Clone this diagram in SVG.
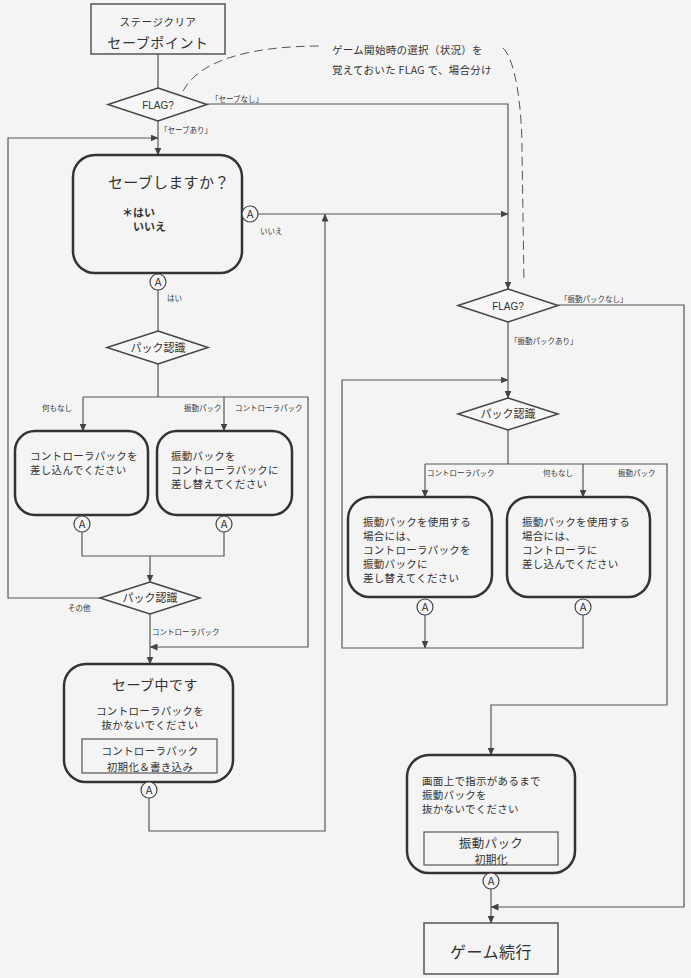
<svg xmlns="http://www.w3.org/2000/svg" width="691" height="978" viewBox="0 0 691 978">
<defs>
<marker id="arr" markerWidth="8" markerHeight="7" refX="7.5" refY="3.5" orient="auto" markerUnits="userSpaceOnUse"><path d="M0,0 L8,3.5 L0,7 z" fill="#444"/></marker>
<style>
text{font-family:"Noto Sans CJK JP","Liberation Sans",sans-serif;fill:#333}
.c{text-anchor:middle}
.t10{font-size:10.5px;letter-spacing:0.3px}
.t8{font-size:7.5px}
.box{fill:none;stroke:#333;stroke-width:2.5}
.rbox{fill:none;stroke:#555;stroke-width:1.5}
.dia{fill:#f6f6f6;stroke:#444;stroke-width:1.5}
.ln{fill:none;stroke:#555;stroke-width:1.2}
.arr{marker-end:url(#arr)}
.dash{fill:none;stroke:#555;stroke-width:1;stroke-dasharray:9,5}
.ac{fill:#f6f6f6;stroke:#444;stroke-width:1.2}
.fl{font-family:"Liberation Sans",sans-serif;font-size:10px}
</style>
</defs>
<rect width="691" height="978" fill="#f4f4f4"/>

<g id="connectors">
<path class="ln" d="M158,54 V88"/>
<path class="ln arr" d="M207,104 H508 V289"/>
<path class="ln arr" d="M158,121 V155"/>
<path class="ln arr" d="M100,598 H8 V138 H158"/>
<path class="ln arr" d="M258,214 H508"/>
<path class="ln" d="M158,290 V331"/>
<path class="ln" d="M158,364 V397"/>
<path class="ln arr" d="M83,397 V431"/>
<path class="ln arr" d="M224,397 V431"/>
<path class="ln arr" d="M83,397 H308 V647 H150"/>
<path class="ln" d="M82,532 V556 H224 V532"/>
<path class="ln arr" d="M150,556 V582"/>
<path class="ln arr" d="M150,614 V664"/>
<path class="ln arr" d="M149,798 V831 H325 V214"/>
<path class="ln arr" d="M558,305 H684 V907 H491"/>
<path class="ln arr" d="M508,322 V398"/>
<path class="ln arr" d="M583,615 V648 H342 V380 H508"/>
<path class="ln arr" d="M425,615 V648"/>
<path class="ln" d="M508,430 V464"/>
<path class="ln arr" d="M425,464 V497"/>
<path class="ln arr" d="M583,464 V497"/>
<path class="ln arr" d="M583,464 H667 V705 H491 V755"/>
<path class="ln" d="M425,464 H583"/>
<path class="ln arr" d="M491,889 V923"/>
<path class="dash" d="M183,91 C200,60 250,46 322,46"/>
<path class="dash" d="M503,48 C516,60 522,110 522,150 L524,282"/>
<text class="t8" x="211" y="102">「セーブなし」</text>
<text class="t8" x="160" y="133">「セーブあり」</text>
<text class="t8" x="260" y="234">いいえ</text>
<text class="t8" x="167" y="301">はい</text>
<text class="t8" x="42" y="411">何もなし</text>
<text class="t8" x="184" y="411">振動パック</text>
<text class="t8" x="235" y="411">コントローラパック</text>
<text class="t8" x="68" y="611">その他</text>
<text class="t8" x="152" y="635">コントローラパック</text>
<text class="t8" x="560" y="302">「振動パックなし」</text>
<text class="t8" x="510" y="344">「振動パックあり」</text>
<text class="t8" x="427" y="476">コントローラパック</text>
<text class="t8" x="543" y="476">何もなし</text>
<text class="t8" x="618" y="476">振動パック</text>
</g>

<g id="note">
<text class="t10" x="332" y="54">ゲーム開始時の選択（状況）を</text>
<text class="t10" x="332" y="74">覚えておいた FLAG で、場合分け</text>
</g>

<g id="start">
<rect class="rbox" x="91" y="4" width="134" height="50"/>
<text class="c" x="158" y="26" style="font-size:10.5px;letter-spacing:0.5px">ステージクリア</text>
<text class="c" x="158" y="48" style="font-size:14px;letter-spacing:0.6px">セーブポイント</text>
</g>

<g id="flag1">
<polygon class="dia" points="158,88 207,104.5 158,121 108,104.5"/>
<text class="c fl" x="158" y="108.5">FLAG?</text>
</g>

<g id="ask">
<rect class="box" x="73" y="155" width="169" height="118" rx="22"/>
<text x="108" y="188" style="font-size:15px;letter-spacing:0.3px">セーブしますか？</text>
<text x="122" y="217" style="font-size:11px;font-weight:bold">＊はい</text>
<text x="133" y="231" style="font-size:11px;font-weight:bold">いいえ</text>
<circle class="ac" cx="250" cy="214" r="8"/><text class="c" x="250" y="218" style="font-size:11px">A</text>
<circle class="ac" cx="158" cy="282" r="8"/><text class="c" x="158" y="286" style="font-size:11px">A</text>
</g>

<g id="pack1">
<polygon class="dia" points="158,331 208,347.5 158,364 107,347.5"/>
<text class="c" x="158" y="352" style="font-size:11px">パック認識</text>
</g>

<g id="insert">
<rect class="box" x="15" y="431" width="133" height="84" rx="20"/>
<text class="t10" x="30" y="460">コントローラパックを</text>
<text class="t10" x="30" y="474">差し込んでください</text>
<circle class="ac" cx="82" cy="524" r="8"/><text class="c" x="82" y="528" style="font-size:11px">A</text>
</g>

<g id="swap">
<rect class="box" x="157" y="431" width="135" height="84" rx="20"/>
<text class="t10" x="171" y="460">振動パックを</text>
<text class="t10" x="171" y="474">コントローラパックに</text>
<text class="t10" x="171" y="488">差し替えてください</text>
<circle class="ac" cx="224" cy="524" r="8"/><text class="c" x="224" y="528" style="font-size:11px">A</text>
</g>

<g id="pack2">
<polygon class="dia" points="150,582 200,598 150,614 100,598"/>
<text class="c" x="150" y="602" style="font-size:11px">パック認識</text>
</g>

<g id="saving">
<rect class="box" x="64" y="664" width="169" height="118" rx="22"/>
<text class="c" x="155" y="690" style="font-size:14px;letter-spacing:0.5px">セーブ中です</text>
<text class="c t10" x="150" y="715">コントローラパックを</text>
<text class="c t10" x="150" y="729">抜かないでください</text>
<rect class="rbox" x="82" y="739" width="135" height="34" style="stroke-width:1.2"/>
<text class="c t10" x="150" y="755">コントローラパック</text>
<text class="c t10" x="150" y="771">初期化＆書き込み</text>
<circle class="ac" cx="149" cy="790" r="8"/><text class="c" x="149" y="794" style="font-size:11px">A</text>
</g>

<g id="flag2">
<polygon class="dia" points="508,289 558,305.5 508,322 458,305.5"/>
<text class="c fl" x="508" y="309.5">FLAG?</text>
</g>

<g id="pack3">
<polygon class="dia" points="508,398 558,414 508,430 458,414"/>
<text class="c" x="508" y="418" style="font-size:11px">パック認識</text>
</g>

<g id="useRumble1">
<rect class="box" x="348" y="497" width="144" height="100" rx="22"/>
<text class="t10" x="363" y="526">振動パックを使用する</text>
<text class="t10" x="363" y="540">場合には、</text>
<text class="t10" x="363" y="554">コントローラパックを</text>
<text class="t10" x="363" y="568">振動パックに</text>
<text class="t10" x="363" y="582">差し替えてください</text>
<circle class="ac" cx="425" cy="607" r="8"/><text class="c" x="425" y="611" style="font-size:11px">A</text>
</g>

<g id="useRumble2">
<rect class="box" x="507" y="497" width="143" height="100" rx="22"/>
<text class="t10" x="522" y="526">振動パックを使用する</text>
<text class="t10" x="522" y="540">場合には、</text>
<text class="t10" x="522" y="554">コントローラに</text>
<text class="t10" x="522" y="568">差し込んでください</text>
<circle class="ac" cx="583" cy="607" r="8"/><text class="c" x="583" y="611" style="font-size:11px">A</text>
</g>

<g id="keepRumble">
<rect class="box" x="407" y="755" width="168" height="118" rx="22"/>
<text class="t10" x="422" y="785">画面上で指示があるまで</text>
<text class="t10" x="422" y="799">振動パックを</text>
<text class="t10" x="422" y="813">抜かないでください</text>
<rect class="rbox" x="424" y="832" width="134" height="33" style="stroke-width:1.2"/>
<text class="c" x="491" y="848" style="font-size:12.5px;letter-spacing:0.3px">振動パック</text>
<text class="c" x="491" y="864" style="font-size:11px">初期化</text>
<circle class="ac" cx="491" cy="881" r="8"/><text class="c" x="491" y="885" style="font-size:11px">A</text>
</g>

<g id="continue">
<rect class="rbox" x="424" y="923" width="134" height="51"/>
<text class="c" x="491" y="958" style="font-size:16px;letter-spacing:0.5px">ゲーム続行</text>
</g>
</svg>
